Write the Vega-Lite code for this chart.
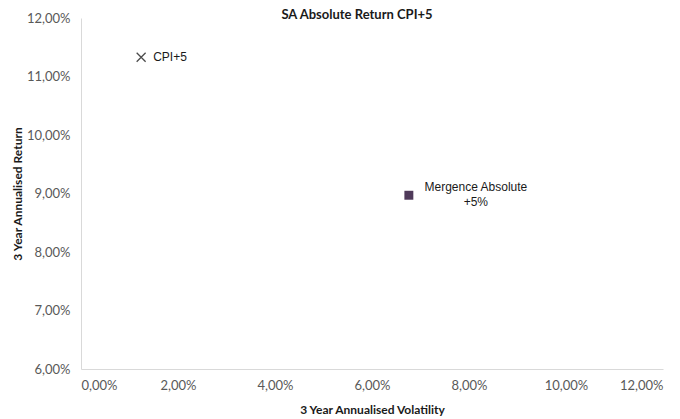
{
  "$schema": "https://vega.github.io/schema/vega-lite/v6.json",
  "width": 582,
  "height": 351,
  "autosize": {"type": "none"},
  "padding": {"left": 81, "top": 18, "right": 17, "bottom": 50},
  "background": "white",
  "title": {"text": "SA Absolute Return CPI+5", "fontSize": 13, "fontWeight": "bold", "color": "#1a1a1a", "font": "Lato", "anchor": "middle", "offset": -16, "baseline": "middle", "dx": -15},
  "data": {"values": [
    {"name": "CPI+5", "label": "CPI+5", "vol": 0.0124, "ret": 0.1133},
    {"name": "Mergence Absolute +5%", "label": "Mergence Absolute\n+5%", "vol": 0.0676, "ret": 0.0897}
  ]},
  "encoding": {
    "x": {"field": "vol", "type": "quantitative", "scale": {"domain": [0, 0.12], "nice": false, "zero": false},
      "axis": {"title": "3 Year Annualised Volatility", "values": [0, 0.02, 0.04, 0.06, 0.08, 0.1, 0.12], "labelExpr": "replace(format(datum.value, '.2%'), '.', ',')", "grid": false, "ticks": false, "domainColor": "#d9d9d9", "labelPadding": 10, "titlePadding": 12}},
    "y": {"field": "ret", "type": "quantitative", "scale": {"domain": [0.06, 0.12], "nice": false, "zero": false},
      "axis": {"title": "3 Year Annualised Return", "values": [0.06, 0.07, 0.08, 0.09, 0.1, 0.11, 0.12], "labelExpr": "replace(format(datum.value, '.2%'), '.', ',')", "grid": false, "ticks": false, "domainColor": "#d9d9d9", "labelPadding": 11, "titlePadding": 2}}
  },
  "layer": [
    {"transform": [{"filter": "datum.name === 'CPI+5'"}],
     "mark": {"type": "point", "shape": "M-1,-1L1,1M-1,1L1,-1", "filled": false, "stroke": "#000000", "strokeWidth": 1.3, "size": 80}},
    {"transform": [{"filter": "datum.name !== 'CPI+5'"}],
     "mark": {"type": "point", "shape": "square", "filled": true, "fill": "#4f3a5a", "opacity": 1, "size": 80}},
    {"transform": [{"filter": "datum.name === 'CPI+5'"}],
     "mark": {"type": "text", "align": "left", "baseline": "middle", "dx": 12, "fontSize": 12, "font": "Liberation Sans", "color": "#1a1a1a"},
     "encoding": {"text": {"field": "label"}}},
    {"transform": [{"filter": "datum.name !== 'CPI+5'"}],
     "mark": {"type": "text", "align": "center", "baseline": "middle", "dx": 67, "dy": -8, "lineBreak": "\n", "lineHeight": 15, "fontSize": 12, "font": "Liberation Sans", "color": "#1a1a1a"},
     "encoding": {"text": {"field": "label"}}}
  ],
  "config": {
    "view": {"stroke": null},
    "axis": {"labelFont": "Lato", "labelFontSize": 13, "labelColor": "#595959", "titleFont": "Lato", "titleFontSize": 12, "titleFontWeight": "bold", "titleColor": "#1a1a1a"}
  }
}
